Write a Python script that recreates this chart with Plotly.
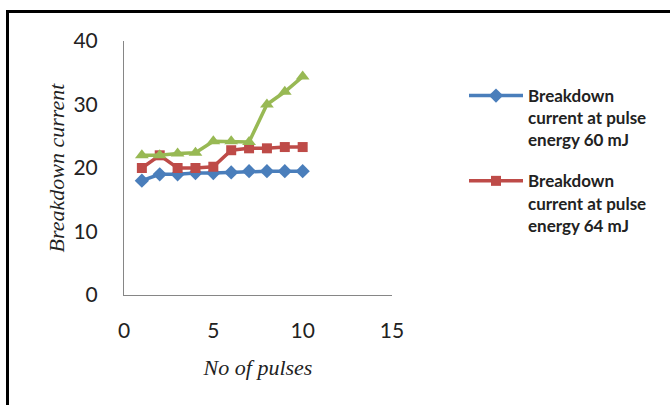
import plotly.graph_objects as go

pulses = [1, 2, 3, 4, 5, 6, 7, 8, 9, 10]
current_60mJ = [18, 19, 19, 19.2, 19.2, 19.3, 19.5, 19.5, 19.5, 19.5]
current_64mJ = [20, 22, 20, 20, 20.2, 22.8, 23.1, 23.1, 23.3, 23.3]
current_third = [22, 22, 22.3, 22.4, 24.2, 24.2, 24.1, 30, 32, 34.4]

names = ["Breakdown<br>current at pulse<br>energy 60 mJ",
         "Breakdown<br>current at pulse<br>energy 64 mJ",
         "Breakdown<br>current at pulse<br>energy 68 mJ"]
x_ticks = [0, 5, 10, 15]
y_ticks = [0, 10, 20, 30, 40]

fig = go.Figure()
fig.add_trace(go.Scatter(x=pulses, y=current_60mJ, name=names[0], mode="lines+markers",
                         legendgroup="a",
                         line=dict(color="#4A7EBB", width=3.5),
                         marker=dict(symbol="diamond", size=11, color="#4A7EBB")))
fig.add_trace(go.Scatter(x=pulses, y=current_64mJ, name=names[1], mode="lines+markers",
                         legendgroup="b",
                         line=dict(color="#BE4B48", width=3.5),
                         marker=dict(symbol="square", size=10, color="#BE4B48")))
fig.add_trace(go.Scatter(x=pulses, y=current_third, name=names[2], mode="lines+markers",
                         showlegend=False, legendgroup="c",
                         line=dict(color="#98B954", width=3.5),
                         marker=dict(symbol="triangle-up", size=12, color="#98B954")))

L, R, T, B = 124, 392, 41, 295
W, H = 670, 405
pw, ph = R - L, B - T

def px(x):
    return (x - L) / pw

def py(y):
    return (B - y) / ph

fig.update_layout(
    width=W, height=H,
    margin=dict(l=L, r=W - R, t=T, b=H - B, pad=0),
    plot_bgcolor="white", paper_bgcolor="white",
    font=dict(family="Lato, sans-serif", color="#222"),
    showlegend=True,
    legend=dict(x=px(464), y=py(78), xanchor="left", yanchor="top",
                font=dict(family="Lato", size=17, color="#222", weight="bold"),
                valign="top", tracegroupgap=16, itemwidth=54, traceorder="grouped",
                bgcolor="rgba(0,0,0,0)"),
    xaxis=dict(range=[0, 15], tickvals=x_ticks, showgrid=False, zeroline=False,
               showline=True, linecolor="#868686", linewidth=1, ticks="",
               tickfont=dict(family="Lato", size=21, color="#222"), ticklabelstandoff=17,
               title=dict(text="<i>No of pulses</i>", standoff=18,
                          font=dict(family="Liberation Serif", size=22, color="#222"))),
    yaxis=dict(range=[0, 40], tickvals=y_ticks, showgrid=False, zeroline=False,
               showline=True, linecolor="#868686", linewidth=1, ticks="",
               tickfont=dict(family="Lato", size=21, color="#222"), ticklabelstandoff=21,
               title=dict(text="<i>Breakdown current</i>", standoff=2,
                          font=dict(family="Liberation Serif", size=22, color="#222"))),
)

fig.add_shape(type="line", xref="paper", yref="paper", x0=px(7.5), x1=px(7.5), y0=py(10), y1=py(420),
              line=dict(color="black", width=3))
fig.add_shape(type="line", xref="paper", yref="paper", x0=px(6), x1=px(690), y0=py(11.5), y1=py(11.5),
              line=dict(color="black", width=3))

fig.write_html("out.html", config={"displayModeBar": False},
               post_script="document.body.style.margin='0';")
